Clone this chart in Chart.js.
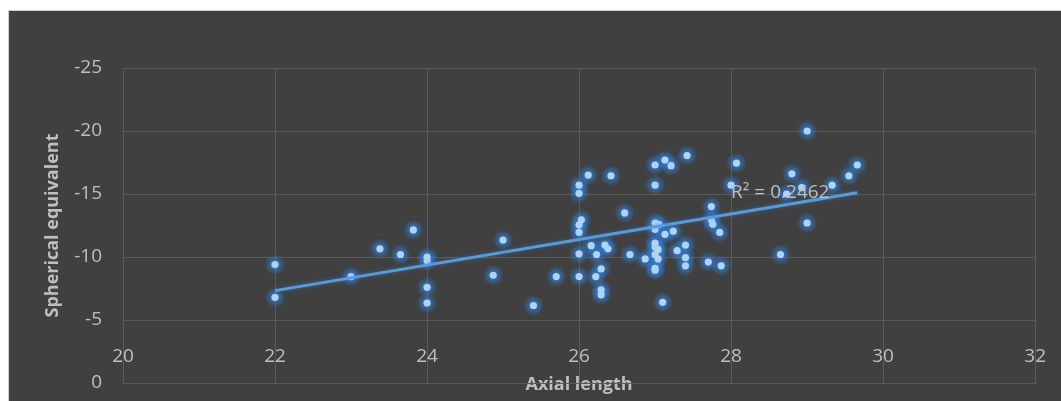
<!DOCTYPE html>
<html>
<head>
<meta charset="utf-8">
<script src="https://cdn.jsdelivr.net/npm/chart.js@4/dist/chart.umd.min.js"></script>
<style>
  html, body { margin: 0; padding: 0; background: #ffffff; width: 1061px; height: 401px; overflow: hidden; }
  #frame {
    position: absolute; left: 8px; top: 10px;
    width: 1052px; height: 390px;
    background: #404040;
    border-left: 1px solid #d0d0d0; border-top: 1px solid #d0d0d0;
  }
  #frame canvas { display: block; }
</style>
</head>
<body>
<div id="frame"><canvas id="c" width="1052" height="390"></canvas></div>
<script>
// Axial length (mm) of each eye
const axialLength = [
  22.0, 22.0, 23.0, 23.38, 23.65, 23.82, 24.0, 24.0, 24.0, 24.0,
  24.87, 25.0, 25.4, 25.7, 26.0, 26.0, 26.03, 26.0, 26.0, 26.0,
  26.0, 26.12, 26.42, 26.6, 26.16, 26.34, 26.38, 26.23, 26.29, 26.22,
  26.29, 26.29, 26.67, 26.87, 27.0, 27.13, 27.21, 27.42, 27.0, 27.0,
  27.05, 27.0, 27.13, 27.24, 27.0, 27.0, 27.04, 27.0, 27.04, 27.0,
  27.0, 27.29, 27.4, 27.4, 27.4, 27.1, 27.7, 27.74, 27.74, 27.76,
  27.85, 27.87, 28.0, 28.07, 28.65, 28.73, 28.8, 28.93, 29.0, 29.0,
  29.33, 29.55, 29.66
];
// Spherical equivalent (D) for the same eyes
const sphericalEquivalent = [
  -9.4, -6.8, -8.45, -10.65, -10.2, -12.15, -10.0, -9.7, -7.6, -6.35,
  -8.55, -11.35, -6.15, -8.45, -15.7, -15.05, -12.95, -12.55, -11.95, -10.25,
  -8.45, -16.5, -16.45, -13.5, -10.9, -10.95, -10.65, -10.2, -9.05, -8.45,
  -7.4, -7.0, -10.2, -9.85, -17.3, -17.7, -17.25, -18.05, -15.7, -12.7,
  -12.6, -12.2, -11.8, -12.05, -11.1, -10.8, -10.6, -10.2, -9.85, -9.1,
  -8.95, -10.5, -10.95, -9.95, -9.3, -6.4, -9.6, -14.0, -12.95, -12.6,
  -11.95, -9.3, -15.7, -17.45, -10.2, -15.0, -16.6, -15.5, -20.0, -12.7,
  -15.7, -16.45, -17.3
];
// Linear trendline end points
const trendX = [22.0, 29.66];
const trendY = [-7.33, -15.1];
const trendLabel = 'R\u00B2 = 0.2462';
const trendLabelAt = { x: 28.0, y: -15.1 };

// Axis ranges and ticks
const xTicks = { min: 20, max: 32, step: 2 };
const yTicks = { min: -25, max: 0, step: 5 };

const points = axialLength.map((x, i) => ({ x, y: sphericalEquivalent[i] }));
const trend = trendX.map((x, i) => ({ x, y: trendY[i] }));

const gridColor = '#5a5a5a';
const textColor = '#bfbfbf';
const FONT = "'Open Sans', 'DejaVu Sans', sans-serif";

// Soft blue halo behind each marker, plus a faint one on the trendline
const glowPlugin = {
  id: 'glow',
  beforeDatasetDraw(chart, args) {
    const ctx = chart.ctx;
    ctx.save();
    if (args.index === 1) {
      const R = 10.5;
      args.meta.data.forEach(pt => {
        const g = ctx.createRadialGradient(pt.x, pt.y, 0, pt.x, pt.y, R);
        g.addColorStop(0, 'rgba(45,130,225,0.85)');
        g.addColorStop(0.45, 'rgba(45,130,225,0.55)');
        g.addColorStop(1, 'rgba(45,130,225,0)');
        ctx.fillStyle = g;
        ctx.beginPath();
        ctx.arc(pt.x, pt.y, R, 0, Math.PI * 2);
        ctx.fill();
      });
    } else {
      ctx.shadowColor = 'rgba(45,135,235,0.5)';
      ctx.shadowBlur = 4;
    }
  },
  afterDatasetDraw(chart) {
    chart.ctx.restore();
  }
};

// R² annotation next to the trendline
const r2Plugin = {
  id: 'r2label',
  afterDatasetsDraw(chart) {
    const { ctx, scales } = chart;
    ctx.save();
    ctx.font = "19px " + FONT;
    ctx.fillStyle = textColor;
    ctx.textAlign = 'left';
    ctx.textBaseline = 'middle';
    ctx.fillText(trendLabel, scales.x.getPixelForValue(trendLabelAt.x), scales.y.getPixelForValue(trendLabelAt.y));
    ctx.restore();
  }
};

new Chart(document.getElementById('c'), {
  type: 'scatter',
  data: {
    datasets: [
      {
        type: 'line',
        label: 'Linear trend',
        data: trend,
        borderColor: '#5b9bd5',
        borderWidth: 3,
        pointRadius: 0,
        fill: false,
        tension: 0
      },
      {
        label: 'Spherical equivalent',
        data: points,
        pointRadius: 3.6,
        pointBackgroundColor: '#b0d3f3',
        pointBorderWidth: 0,
        pointBorderColor: 'rgba(0,0,0,0)'
      }
    ]
  },
  options: {
    responsive: false,
    animation: false,
    events: [],
    layout: { padding: { left: 0, top: 57, right: 23, bottom: 0 } },
    plugins: {
      legend: { display: false },
      tooltip: { enabled: false }
    },
    scales: {
      x: {
        type: 'linear',
        position: 'bottom',
        min: xTicks.min,
        max: xTicks.max,
        ticks: {
          stepSize: xTicks.step,
          color: textColor,
          mirror: true,
          padding: 15,
          font: { family: FONT, size: 19 },
          maxRotation: 0
        },
        grid: { color: gridColor, lineWidth: 1, drawTicks: false },
        border: { color: gridColor },
        title: {
          display: true,
          text: 'Axial length',
          color: textColor,
          font: { family: FONT, size: 18, weight: 'bold' },
          padding: { top: 0, bottom: 5 }
        },
        afterFit(scale) { scale.height = 18; }
      },
      y: {
        type: 'linear',
        reverse: true,
        min: yTicks.min,
        max: yTicks.max,
        ticks: {
          stepSize: yTicks.step,
          color: textColor,
          padding: 21,
          font: { family: FONT, size: 19 }
        },
        grid: { color: gridColor, lineWidth: 1, drawTicks: false },
        border: { color: gridColor },
        title: {
          display: true,
          text: 'Spherical equivalent',
          color: textColor,
          font: { family: FONT, size: 18, weight: 'bold' },
          padding: { top: 33, bottom: 0 }
        },
        afterFit(scale) {
          scale.width = 114;
          scale.paddingTop = 0;
          scale.paddingBottom = 0;
        }
      }
    }
  },
  plugins: [glowPlugin, r2Plugin]
});
</script>
</body>
</html>
